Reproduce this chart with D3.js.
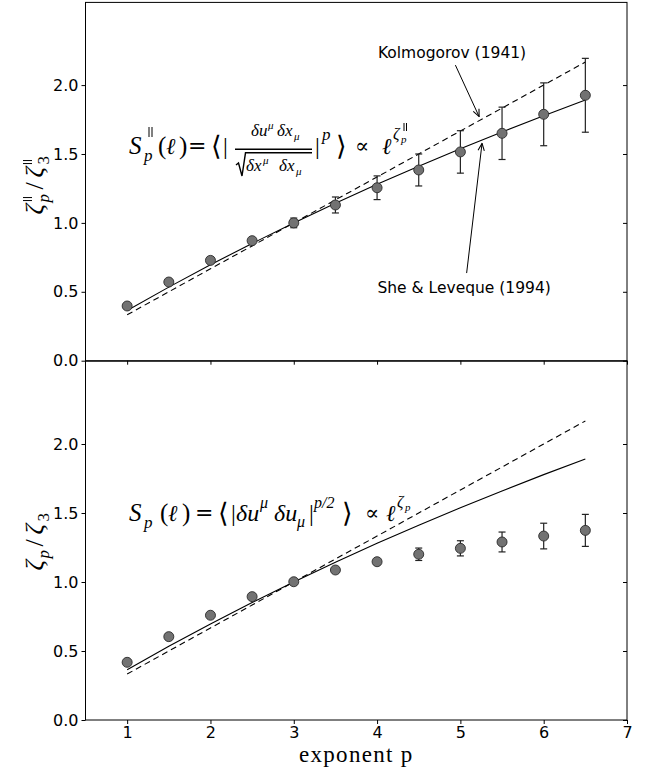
<!DOCTYPE html>
<html><head><meta charset="utf-8">
<script src="https://cdn.jsdelivr.net/npm/d3@7"></script>
<style>
html,body{margin:0;padding:0;background:#fff;}
svg{display:block;}
.tick text{font-family:"DejaVu Sans",sans-serif;font-size:16px;fill:#000;}
.math{font-family:"Liberation Serif","DejaVu Serif",serif;fill:#000;}
.op{font-family:"DejaVu Serif","Liberation Serif",serif;fill:#000;}
</style></head>
<body>
<script>
// ---------------- data ----------------
const pValues   = [1, 1.5, 2, 2.5, 3, 3.5, 4, 4.5, 5, 5.5, 6, 6.5];
// top panel: longitudinal exponents zeta_p^par / zeta_3^par
const parMean   = [0.397, 0.571, 0.728, 0.871, 1.000, 1.130, 1.255, 1.384, 1.515, 1.650, 1.788, 1.926];
const parErr    = [0.010, 0.010, 0.012, 0.018, 0.035, 0.058, 0.086, 0.116, 0.154, 0.190, 0.228, 0.268];
// bottom panel: full exponents zeta_p / zeta_3
const fullMean  = [0.418, 0.604, 0.759, 0.894, 1.002, 1.087, 1.147, 1.201, 1.244, 1.290, 1.333, 1.374];
const fullErr   = [0.008, 0.008, 0.008, 0.008, 0.010, 0.012, 0.018, 0.045, 0.055, 0.072, 0.093, 0.116];
// model curves (Kolmogorov 1941: p/3, She & Leveque 1994)
const k41Values = [0.333, 0.500, 0.667, 0.833, 1.000, 1.167, 1.333, 1.500, 1.667, 1.833, 2.000, 2.167];
const slValues  = [0.364, 0.534, 0.696, 0.851, 1.000, 1.143, 1.280, 1.411, 1.538, 1.660, 1.778, 1.891];
const xTickValues = [1, 2, 3, 4, 5, 6, 7];
const yTickValues = [0.0, 0.5, 1.0, 1.5, 2.0];
const xLabel = "exponent p";
const kolmoLabel = "Kolmogorov (1941)";
const sheLabel = "She & Leveque (1994)";

// ---------------- layout ----------------
const W = 649, H = 770;
const svg = d3.select("body").append("svg").attr("width", W).attr("height", H);

const x = d3.scaleLinear().domain([0.5, 7]).range([85.5, 627]);
const yTop = d3.scaleLinear().domain([0, 2.6]).range([360.7, 2.4]);
const yBot = d3.scaleLinear().domain([0, 2.6]).range([720, 361.2]);

function panel(y, mean, err, showX) {
  const g = svg.append("g");
  const [y0, y1] = y.range();
  g.append("rect").attr("x", x.range()[0]).attr("y", y1)
    .attr("width", x.range()[1] - x.range()[0]).attr("height", y0 - y1)
    .attr("fill", "none").attr("stroke", "#000").attr("stroke-width", 1);

  const line = d3.line().x((d, i) => x(pValues[i])).y(d => y(d));
  g.append("path").datum(k41Values).attr("d", line).attr("fill", "none")
    .attr("stroke", "#000").attr("stroke-width", 1.1).attr("stroke-dasharray", "6,4");
  g.append("path").datum(slValues).attr("d", line).attr("fill", "none")
    .attr("stroke", "#000").attr("stroke-width", 1.1);

  const eb = g.append("g").attr("stroke", "#222").attr("stroke-width", 1.2);
  pValues.forEach((p, i) => {
    const cx = x(p), lo = y(mean[i] - err[i]), hi = y(mean[i] + err[i]);
    eb.append("line").attr("x1", cx).attr("x2", cx).attr("y1", lo).attr("y2", hi);
    eb.append("line").attr("x1", cx - 3.5).attr("x2", cx + 3.5).attr("y1", lo).attr("y2", lo);
    eb.append("line").attr("x1", cx - 3.5).attr("x2", cx + 3.5).attr("y1", hi).attr("y2", hi);
  });
  g.append("g").selectAll("circle").data(mean).join("circle")
    .attr("cx", (d, i) => x(pValues[i])).attr("cy", d => y(d)).attr("r", 5)
    .attr("fill", "#727272").attr("stroke", "#2a2a2a").attr("stroke-width", 0.9);

  const la = g.append("g").attr("transform", `translate(${x.range()[0]},0)`)
    .call(d3.axisLeft(y).tickValues(yTickValues).tickFormat(d3.format(".1f")).tickSize(4).tickPadding(3));
  const ra = g.append("g").attr("transform", `translate(${x.range()[1]},0)`)
    .call(d3.axisLeft(y).tickValues(yTickValues).tickFormat("").tickSize(-4));
  ra.selectAll(".tick line").attr("x2", -4);
  const ba = g.append("g").attr("transform", `translate(0,${y0})`)
    .call(d3.axisBottom(x).tickValues(xTickValues).tickFormat(showX ? d3.format("d") : "").tickSize(4).tickPadding(3));
  [la, ra, ba].forEach(a => {
    a.select(".domain").remove();
    a.selectAll(".tick line").attr("stroke", "#000").attr("stroke-width", 1);
  });
  return g;
}
panel(yTop, parMean, parErr, false);
panel(yBot, fullMean, fullErr, true);

// ---------------- text helpers ----------------
function mt(parent, px, py, s, size, italic, cls) {
  return parent.append("text").attr("class", cls || "math").attr("x", px).attr("y", py)
    .attr("font-size", size).attr("font-style", italic ? "italic" : "normal").text(s);
}
function par(parent, px, py1, py2, gap) {   // "parallel" sign as two short strokes
  [0, gap].forEach(o => parent.append("line").attr("x1", px + o).attr("x2", px + o)
    .attr("y1", py1).attr("y2", py2).attr("stroke", "#000").attr("stroke-width", 1));
}

// x label
svg.append("text").attr("class", "math").attr("x", (x.range()[0] + x.range()[1]) / 2).attr("y", 762)
  .attr("text-anchor", "middle").attr("font-size", 23).attr("letter-spacing", 1.3).text(xLabel);

// y labels (rotated frame: +x is up on screen, +y is right on screen)
const ylt = svg.append("g").attr("transform", `translate(43,${(yTop.range()[0] + yTop.range()[1]) / 2}) rotate(-90)`);
const o1 = -33;
mt(ylt, o1 + 0, 0, "ζ", 26, true);
mt(ylt, o1 + 12, 6, "p", 17, true);
par(ylt, o1 + 14, -20, -11, 3);
mt(ylt, o1 + 25, 0, "/", 26, false);
mt(ylt, o1 + 37, 0, "ζ", 26, true);
mt(ylt, o1 + 50, 6, "3", 17, false);
par(ylt, o1 + 51, -20, -11, 3);

const ylb = svg.append("g").attr("transform", `translate(43,${(yBot.range()[0] + yBot.range()[1]) / 2}) rotate(-90)`);
const o2 = -30;
mt(ylb, o2 + 0, 0, "ζ", 26, true);
mt(ylb, o2 + 12, 6, "p", 17, true);
mt(ylb, o2 + 24, 0, "/", 26, false);
mt(ylb, o2 + 36, 0, "ζ", 26, true);
mt(ylb, o2 + 49, 6, "3", 17, false);

// top formula
const tf = svg.append("g");
const B = 154;
mt(tf, 129, B, "S", 25, true);
mt(tf, 144, B + 7, "p", 17, true);
par(tf, 149, 127, 137, 3);
mt(tf, 158, B, "(", 25, false);
mt(tf, 166, B, "ℓ", 23, true);
mt(tf, 179, B, ")", 25, false);
mt(tf, 188, B - 1, "=", 22, false, "op");
mt(tf, 211, B + 1, "⟨", 27, false, "op");
mt(tf, 223, B, "|", 24, false);
mt(tf, 251, 136, "δu", 17, true);
mt(tf, 268, 129, "μ", 11, true);
mt(tf, 277, 136, "δx", 17, true);
mt(tf, 294, 140, "μ", 11, true);
tf.append("line").attr("x1", 235).attr("x2", 312).attr("y1", 149.3).attr("y2", 149.3).attr("stroke", "#000").attr("stroke-width", 1.6);
tf.append("path").attr("d", "M236,165 L238.5,163 L242,176 L245.5,152.8 L312,152.8").attr("fill", "none").attr("stroke", "#000").attr("stroke-width", 1.4);
mt(tf, 246, 171, "δx", 17, true);
mt(tf, 263, 164, "μ", 11, true);
mt(tf, 279, 171, "δx", 17, true);
mt(tf, 296, 175, "μ", 11, true);
mt(tf, 315, B, "|", 24, false);
mt(tf, 322, 140, "p", 17, true);
mt(tf, 336, B + 1, "⟩", 27, false, "op");
mt(tf, 355, B - 1, "∝", 21, false, "op");
mt(tf, 382, B, "ℓ", 23, true);
mt(tf, 393, 139, "ζ", 16, true);
mt(tf, 401, 143, "p", 11, true);
par(tf, 404, 123, 131, 2.5);

// bottom formula
const bf = svg.append("g");
const B2 = 521;
mt(bf, 129, B2, "S", 25, true);
mt(bf, 144, B2 + 7, "p", 17, true);
mt(bf, 160, B2, "(", 25, false);
mt(bf, 168, B2, "ℓ", 23, true);
mt(bf, 182, B2, ")", 25, false);
mt(bf, 195, B2 - 1, "=", 22, false, "op");
mt(bf, 218, B2 + 1, "⟨", 27, false, "op");
mt(bf, 231, B2, "|", 24, false);
mt(bf, 236, B2, "δu", 24, true);
mt(bf, 260, 508, "μ", 16, true);
mt(bf, 274, B2, "δu", 24, true);
mt(bf, 297, 527, "μ", 16, true);
mt(bf, 309, B2, "|", 24, false);
mt(bf, 314, 508, "p/2", 16, true);
mt(bf, 342, B2 + 1, "⟩", 27, false, "op");
mt(bf, 365, B2 - 1, "∝", 21, false, "op");
mt(bf, 386, B2, "ℓ", 23, true);
mt(bf, 397, 507, "ζ", 16, true);
mt(bf, 405, 511, "p", 11, true);

// annotations
const defs = svg.append("defs");
defs.append("marker").attr("id", "ah").attr("viewBox", "0 0 10 10").attr("refX", 9).attr("refY", 5)
  .attr("markerWidth", 9).attr("markerHeight", 9).attr("markerUnits", "userSpaceOnUse").attr("orient", "auto")
  .append("path").attr("d", "M1,1.5 L9,5 L1,8.5").attr("fill", "none").attr("stroke", "#000").attr("stroke-width", 1.2);

const annots = [
  {text: kolmoLabel, tx: 4.9, ty: 2.197, from: [4.94, 2.145], to: [5.225, 1.771]},
  {text: sheLabel, tx: 5.045, ty: 0.491, from: [5.075, 0.636], to: [5.26, 1.577]}
];
annots.forEach(a => {
  svg.append("text").attr("x", x(a.tx)).attr("y", yTop(a.ty)).attr("text-anchor", "middle")
    .attr("font-family", "DejaVu Sans, sans-serif").attr("font-size", 15.5).text(a.text);
  svg.append("line").attr("x1", x(a.from[0])).attr("y1", yTop(a.from[1]))
    .attr("x2", x(a.to[0])).attr("y2", yTop(a.to[1]))
    .attr("stroke", "#000").attr("stroke-width", 1).attr("marker-end", "url(#ah)");
});
</script>
</body></html>
